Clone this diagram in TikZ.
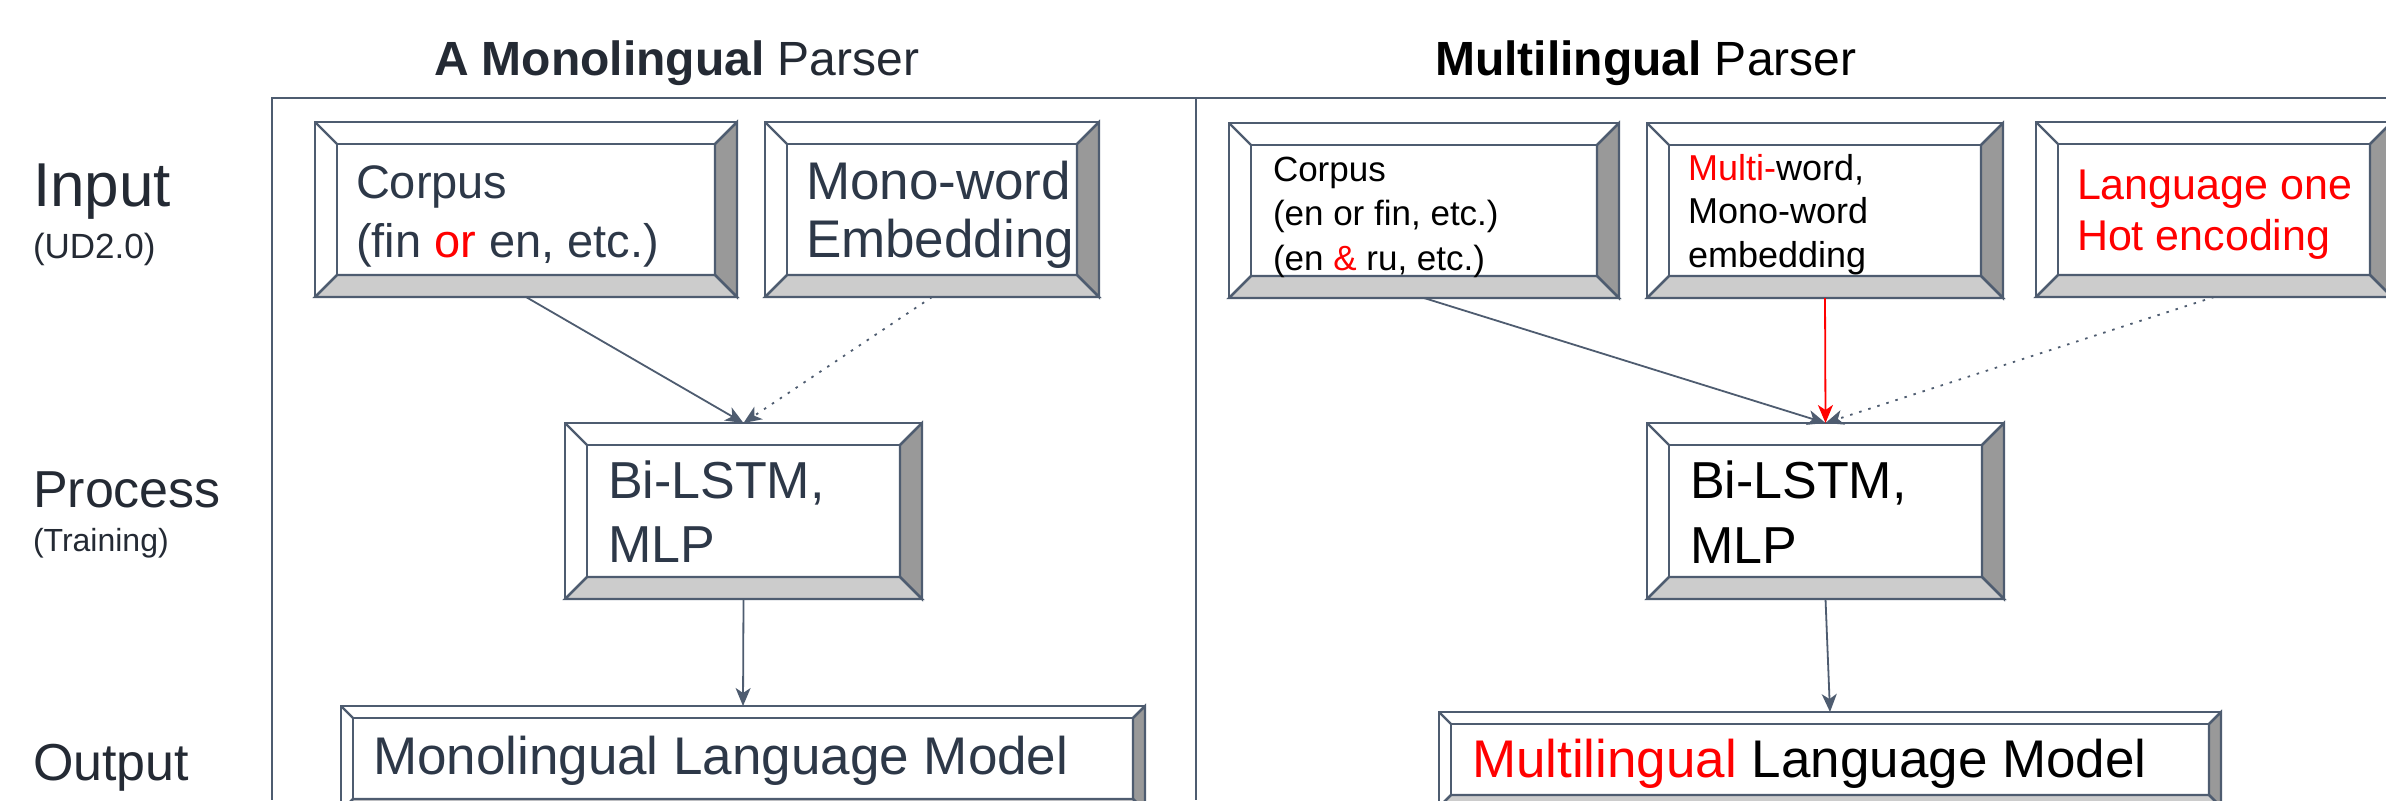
\documentclass[tikz,border=0pt]{standalone}
\usepackage{fontspec}
\setmainfont{Liberation Sans}
\usetikzlibrary{arrows.meta,fit}

\definecolor{edge}{RGB}{78,92,112}
\definecolor{ink}{RGB}{45,56,72}
\definecolor{labelink}{RGB}{36,42,52}
\definecolor{bevdark}{RGB}{153,153,153}
\definecolor{bevlight}{RGB}{204,204,204}
\definecolor{hl}{RGB}{255,0,0}

% font size given in bp (one bp = one unit of the picture)
\newcommand\fs[2]{\fontsize{#1bp}{#2bp}\selectfont}
% left-aligned block of lines whose baseline is that of its first line
\newcommand\lines[1]{\begin{tabular}[t]{@{}l@{}}#1\end{tabular}}

\tikzset{
  boxline/.style={draw=edge, line width=2.2bp, line join=miter},
  frameline/.style={draw=edge, line width=2.4bp},
  txt/.style={anchor=base west, inner sep=0pt, outer sep=0pt},
  conn/.style={draw=edge, line width=1.8bp, -{Stealth[length=18bp,width=15bp,inset=5bp]}},
  dotconn/.style={conn, dash pattern=on 2.5bp off 7bp},
  redconn/.style={draw=hl, line width=1.8bp, -{Stealth[length=18bp,width=15bp,inset=5bp]}},
}

% bevelled button: name, x0, y0, x1, y1, bevel width
\newcommand\bevelbox[6]{%
  \fill[white] (#2,#3) rectangle (#4,#5);
  \filldraw[boxline, fill=bevdark] (#4,#3) -- (#4,#5) -- ({#4-#6},{#5-#6}) -- ({#4-#6},{#3+#6}) -- cycle;
  \filldraw[boxline, fill=bevlight] (#2,#5) -- (#4,#5) -- ({#4-#6},{#5-#6}) -- ({#2+#6},{#5-#6}) -- cycle;
  \draw[boxline] (#2,#3) rectangle (#4,#5);
  \draw[boxline] ({#2+#6},{#3+#6}) rectangle ({#4-#6},{#5-#6});
  \draw[boxline] (#2,#3) -- ({#2+#6},{#3+#6})
                 (#4,#3) -- ({#4-#6},{#3+#6})
                 (#2,#5) -- ({#2+#6},{#5-#6})
                 (#4,#5) -- ({#4-#6},{#5-#6});
  \coordinate (#1-nw) at (#2,#3);
  \coordinate (#1-se) at (#4,#5);
  \node[fit=(#1-nw)(#1-se), inner sep=0pt, outer sep=0pt] (#1) {};
}

\begin{document}
\begin{tikzpicture}[x=1bp, y=-1bp]
  \useasboundingbox (0,0) rectangle (2386,800);
  \clip (0,0) rectangle (2386,800);
  \fill[white] (0,0) rectangle (2386,800);

  % column frame
  \draw[frameline] (2386,98) -- (272,98) -- (272,800);
  \draw[frameline] (1196,98) -- (1196,800);

  % column titles
  \node[txt, text=labelink, font=\fs{48}{56}] (titleMono) at (434,76)
    {\textbf{A Monolingual} Parser};
  \node[txt, text=black, font=\fs{48}{56}] (titleMulti) at (1435,76)
    {\textbf{Multilingual} Parser};

  % row labels
  \node[txt, text=labelink, font=\fs{62}{70}] (rowInput) at (33,206) {Input};
  \node[txt, text=labelink, font=\fs{35}{40}] (rowInputSub) at (33,258) {(UD2.0)};
  \node[txt, text=labelink, font=\fs{52}{60}] (rowProcess) at (33,507) {Process};
  \node[txt, text=labelink, font=\fs{32}{38}] (rowProcessSub) at (33,551) {(Training)};
  \node[txt, text=labelink, font=\fs{52}{60}] (rowOutput) at (33,780) {Output};

  % ---- monolingual parser ----
  \bevelbox{corpusL}{315}{122}{737}{297}{22}
  \node[txt, text=ink, font=\fs{47}{59}] (corpusLtext) at (356,198)
    {\lines{Corpus\\(fin {\color{hl}or} en, etc.)}};

  \bevelbox{embedL}{765}{122}{1099}{297}{22}
  \node[txt, text=ink, font=\fs{53}{58}] (embedLtext) at (806,199)
    {\lines{Mono-word\\Embedding}};

  \bevelbox{lstmL}{565}{423}{922}{599}{22}
  \node[txt, text=ink, font=\fs{52}{64}] (lstmLtext) at (608,498)
    {\lines{Bi-LSTM,\\MLP}};

  \bevelbox{outL}{341}{706}{1145}{811}{12}
  \node[txt, text=ink, font=\fs{53}{60}] (outLtext) at (373,774)
    {Monolingual Language Model};

  \draw[conn] (corpusL.south) -- (lstmL.north);
  \draw[dotconn] (embedL.south) -- (lstmL.north);
  \draw[conn] (lstmL.south) -- (outL.north);

  % ---- multilingual parser ----
  \bevelbox{corpusR}{1229}{123}{1619}{298}{22}
  \node[txt, text=black, font=\fs{35}{44.5}] (corpusRtext) at (1273,181)
    {\lines{Corpus\\(en or fin, etc.)\\(en {\color{hl}\&} ru, etc.)}};

  \bevelbox{embedR}{1647}{123}{2003}{298}{22}
  \node[txt, text=black, font=\fs{36}{43.5}] (embedRtext) at (1688,180)
    {\lines{{\color{hl}Multi-}word,\\Mono-word\\embedding}};

  \bevelbox{langR}{2036}{122}{2392}{297}{22}
  \node[txt, text=hl, font=\fs{43}{51}] (langRtext) at (2077,199)
    {\lines{Language one\\Hot encoding}};

  \bevelbox{lstmR}{1647}{423}{2004}{599}{22}
  \node[txt, text=black, font=\fs{52}{65}] (lstmRtext) at (1690,498)
    {\lines{Bi-LSTM,\\MLP}};

  \bevelbox{outR}{1439}{712}{2221}{807}{12}
  \node[txt, text=black, font=\fs{53}{60}] (outRtext) at (1472,777)
    {{\color{hl}Multilingual} Language Model};

  \draw[conn] (corpusR.south) -- (lstmR.north);
  \draw[redconn] (embedR.south) -- (lstmR.north);
  \draw[dotconn] (langR.south) -- (lstmR.north);
  \draw[conn] (lstmR.south) -- (outR.north);
\end{tikzpicture}
\end{document}
